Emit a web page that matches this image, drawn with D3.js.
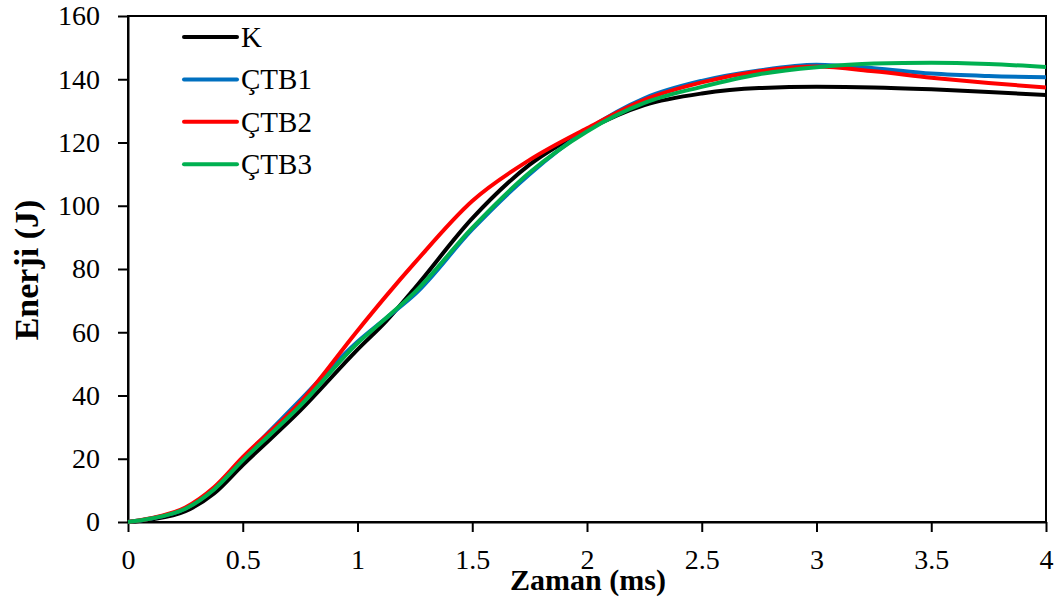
<!DOCTYPE html>
<html>
<head>
<meta charset="utf-8">
<script src="https://cdn.jsdelivr.net/npm/d3@7"></script>
<style>
  body { margin: 0; background: #fff; }
  svg { display: block; font-family: "Liberation Serif", "Times New Roman", serif; }
  .axis path, .axis line { stroke: #000; stroke-width: 2; }
  .axis text { font-size: 28px; fill: #000; font-family: "Liberation Serif", serif; }
  .title { font-weight: bold; }
  .line { fill: none; stroke-width: 4; }
</style>
</head>
<body>
<div class="container"></div>
<script>
var times = [0, 0.1, 0.25, 0.375, 0.5, 0.75, 1, 1.125, 1.25, 1.5, 1.75, 2, 2.25, 2.5, 2.75, 3, 3.25, 3.5, 3.75, 4];

var kValues    = [0, 0.8, 3.4, 9, 18, 35.2, 54.5, 63.5, 74, 96, 113, 124, 131.8, 135.5, 137.2, 137.6, 137.4, 136.8, 136, 135];
var ctb1Values = [0, 1.1, 4.3, 10.5, 20, 38.5, 57, 64.5, 72, 92.5, 110, 124, 134, 139.5, 142.8, 144.6, 143.5, 141.8, 141, 140.6];
var ctb2Values = [0, 1.2, 4.6, 11, 20.5, 37.8, 60.5, 71.5, 82, 101.5, 114.5, 124.5, 133.5, 139, 142.5, 144, 142.5, 140.5, 138.8, 137.4];
var ctb3Values = [0, 1.1, 4.2, 10.3, 19.5, 36.7, 56.5, 64.5, 72.7, 93, 110.5, 123.5, 132.5, 137.6, 141.6, 143.8, 145, 145.2, 144.8, 143.9];

var seriesNames = ['K', 'ÇTB1', 'ÇTB2', 'ÇTB3'];
var seriesColors = ['#000000', '#0070c0', '#ff0000', '#00b050'];
var seriesValues = [kValues, ctb1Values, ctb2Values, ctb3Values];

var xTicks = [0, 0.5, 1, 1.5, 2, 2.5, 3, 3.5, 4];
var yTicks = [0, 20, 40, 60, 80, 100, 120, 140, 160];

var WIDTH = 1062,
	HEIGHT = 603,
	LEFT = 128,
	RIGHT = 1046,
	TOP = 16,
	BOTTOM = 522;

function translate(x, y) {
	return 'translate(' + x + ',' + y + ')';
}

var svg = d3.select('.container').append('svg')
	.attr('width', WIDTH)
	.attr('height', HEIGHT);

var xScale = d3.scaleLinear()
	.domain([0, 4])
	.range([LEFT, RIGHT]);

var yScale = d3.scaleLinear()
	.domain([0, 160])
	.range([BOTTOM, TOP]);

// frame
svg.append('rect')
	.attr('x', LEFT)
	.attr('y', TOP)
	.attr('width', RIGHT - LEFT)
	.attr('height', BOTTOM - TOP)
	.attr('fill', 'none')
	.attr('stroke', '#000')
	.attr('stroke-width', 2);

var xAxis = d3.axisBottom(xScale)
	.tickValues(xTicks)
	.tickSize(10)
	.tickPadding(17)
	.tickSizeOuter(0)
	.tickFormat(function(d) { return String(d); });

var yAxis = d3.axisLeft(yScale)
	.tickValues(yTicks)
	.tickSize(10)
	.tickPadding(18)
	.tickSizeOuter(0);

svg.append('g')
	.attr('class', 'axis')
	.attr('transform', translate(0, BOTTOM))
	.call(xAxis);

svg.append('g')
	.attr('class', 'axis')
	.attr('transform', translate(LEFT, 0))
	.call(yAxis);

var line = d3.line()
	.curve(d3.curveMonotoneX)
	.x(function(d) { return xScale(d.t); })
	.y(function(d) { return yScale(d.v); });

seriesValues.forEach(function(vals, i) {
	var pts = times.map(function(t, j) { return {t: t, v: vals[j]}; });
	svg.append('path')
		.datum(pts)
		.attr('class', 'line')
		.attr('stroke', seriesColors[i])
		.attr('d', line);
});

// legend
var legend = svg.append('g').attr('transform', translate(184, 37));
seriesNames.forEach(function(name, i) {
	var g = legend.append('g').attr('transform', translate(0, i * 42.4));
	g.append('line')
		.attr('x1', 0).attr('x2', 53)
		.attr('y1', 0).attr('y2', 0)
		.attr('stroke', seriesColors[i])
		.attr('stroke-width', 4)
		.attr('stroke-linecap', 'round');
	g.append('text')
		.attr('x', 57)
		.attr('y', 10)
		.style('font-size', '29px')
		.text(name);
});

// titles
svg.append('text')
	.attr('class', 'title')
	.attr('x', 588)
	.attr('y', 590)
	.attr('text-anchor', 'middle')
	.style('font-size', '30px')
	.text('Zaman (ms)');

svg.append('text')
	.attr('class', 'title')
	.attr('transform', translate(38, 270) + ' rotate(-90)')
	.attr('text-anchor', 'middle')
	.style('font-size', '34px')
	.text('Enerji (J)');
</script>
</body>
</html>
